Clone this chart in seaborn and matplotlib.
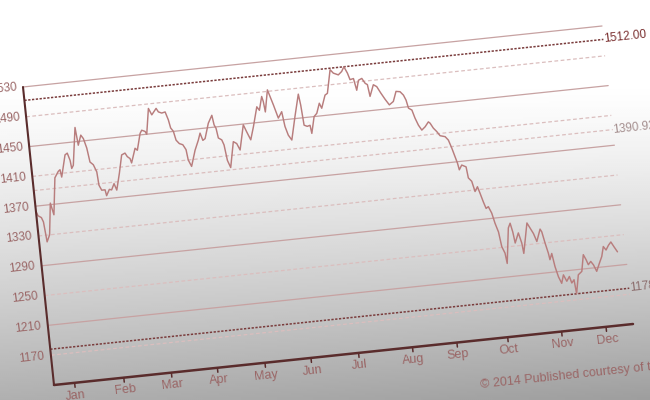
import numpy as np
import matplotlib
matplotlib.use("Agg")
import matplotlib.pyplot as plt
import seaborn as sns
from matplotlib.transforms import Affine2D

# chart data: days since the start of the chart and closing level
day = [0, 1, 3, 4, 5, 7, 9.5, 11, 14, 16.5, 17.7, 18.3, 21.8, 23.3, 24.6, 25.1, 26.3,
       29.8, 30.7, 32.9, 34.3, 35.8, 36.9, 38.8, 40.5, 41, 42.4, 44.5, 45.1, 47.2, 48.6,
       50.5, 51.8, 54.5, 57.1, 59.3, 60.5, 62.1, 62.8, 65.9, 67.2, 70, 71.2, 73.2, 74.1,
       76.8, 78.5, 81.6, 82.8, 84.8, 87, 88.5, 89.4, 90.9, 92, 93.8, 95.9, 97.6, 98.3,
       100, 103.2, 105.9, 107.4, 108.7, 110.2, 113.2, 115.9, 116.7, 117.7, 118.5, 120.5,
       121.6, 122.7, 124.3, 127.6, 129.6, 131.3, 134.9, 136.6, 138.6, 141.1, 144.5, 145.9,
       148.2, 148.9, 149.5, 152.2, 153.4, 155, 157.2, 159.7, 160.8, 162.3, 164.2, 167.7,
       171.2, 172, 172.8, 174.7, 176.5, 177.1, 179.6, 181.5, 183.7, 184.9, 187.8, 189.4,
       192.6, 194.4, 197.4, 199.7, 201.4, 203.2, 204.4, 206.6, 207.9, 209.6, 211.8, 213.6,
       214.9, 215.8, 218.6, 220.6, 222.7, 225, 227.3, 230, 232.3, 234.8, 236.7, 238, 239,
       241, 242.4, 244.1, 245.9, 248.2, 250.5, 251.5, 253.2, 255.1, 256.9, 260, 261.8,
       263.4, 264.9, 266, 266.7, 268.5, 271.1, 271.8, 273.7, 275.1, 276.9, 278.1, 279.6,
       280.9, 282.4, 284.1, 285.5, 287.1, 288.2, 289.8, 290.5, 293.5, 294.9, 296, 296.8,
       299.4, 300.9, 301.5, 305.4, 307, 308.8, 310.4, 313.2, 314.1, 315.4, 316.8, 317.4,
       318.9, 320.1, 321.6, 323.2, 324.8, 326.5, 328.4, 329.5, 331.1, 331.8, 334.1, 336.5,
       338.5, 339.9, 341, 342.7, 344.2, 345.8, 347.9, 349.9, 351.5, 353, 354.8, 356.5,
       358.2, 360]
price = [1363, 1357, 1354, 1348, 1321, 1330, 1372, 1356, 1405, 1413, 1415, 1405, 1434, 1436,
         1426, 1415, 1419, 1469, 1445, 1458, 1453, 1440, 1421, 1417, 1407, 1389, 1382, 1382,
         1374, 1382, 1381, 1389, 1380, 1402, 1426, 1428, 1423, 1420, 1414, 1433, 1430, 1452,
         1456, 1454, 1450, 1484, 1475, 1483, 1478, 1476, 1477, 1466, 1455, 1450, 1438, 1433,
         1431, 1424, 1410, 1401, 1422, 1435, 1444, 1434, 1436, 1456, 1466, 1453, 1448, 1435,
         1432, 1425, 1404, 1394, 1428, 1425, 1416, 1449, 1439, 1428, 1445, 1471, 1466, 1484,
         1477, 1463, 1492, 1483, 1471, 1453, 1461, 1441, 1429, 1422, 1453, 1482, 1467, 1440,
         1438, 1439, 1428, 1450, 1454, 1467, 1460, 1477, 1479, 1510, 1505, 1502, 1506, 1512,
         1503, 1494, 1495, 1479, 1492, 1494, 1487, 1485, 1469, 1484, 1481, 1472, 1463, 1455,
         1459, 1472, 1471, 1466, 1459, 1448, 1445, 1434, 1424, 1417, 1421, 1427, 1425, 1418,
         1413, 1407, 1405, 1400, 1389, 1377, 1368, 1359, 1365, 1362, 1347, 1342, 1328, 1334,
         1325, 1313, 1304, 1306, 1297, 1283, 1271, 1251, 1242, 1228, 1275, 1281, 1269, 1254,
         1267, 1253, 1239, 1279, 1272, 1264, 1253, 1269, 1265, 1250, 1236, 1227, 1235, 1217,
         1203, 1194, 1205, 1196, 1202, 1193, 1197, 1178, 1203, 1207, 1229, 1222, 1215, 1219,
         1214, 1205, 1215, 1224, 1237, 1232, 1238, 1242, 1235, 1228]

months = ["Jan", "Feb", "Mar", "Apr", "May", "Jun", "Jul", "Aug", "Sep", "Oct", "Nov", "Dec"]
month_day = [13, 44, 74, 103, 133, 162, 192, 226, 254, 286, 320, 348]

y_ticks = [1530, 1490, 1450, 1410, 1370, 1330, 1290, 1250, 1210, 1170]
grid_solid = [1530, 1450, 1370, 1290, 1210]
grid_dashed = [1490, 1410, 1330, 1250, 1170]

ref_values = [1512.00, 1390.92, 1178.00]
ref_labels = ["1512.00", "1390.92", "1178.00"]
ref_dark = [True, False, True]
ref_colors = ["#7a2f2f", "#a48e8e", "#8c6d6d"]

credit = "\u00a9 2014 Published courtesy of the lender"

x_end = 365
y_low, y_high = 1130, 1530

# colours
line_col = "#b87d7d"
text_col = "#9a6666"
axis_col = "#5a2c2c"
grid_col = "#c7a2a2"
dash_col = "#dbbebe"

sns.set_theme(style="white")
plt.rcParams["font.family"] = ["Liberation Sans", "DejaVu Sans"]

fig = plt.figure(figsize=(6.5, 4), dpi=100)
ax = fig.add_axes([0, 0, 1, 1])

# grey gradient backdrop
yy, xx = np.mgrid[0:1:200j, 0:1:325j]
fade = np.clip((yy - 0.2) / 0.8, 0, 1) ** 1.3
shade = 1 - 0.31 * fade - 0.07 * xx * fade
ax.imshow(shade, cmap="gray", vmin=0, vmax=1, extent=(0, 650, 400, 0),
          aspect="auto", interpolation="bilinear", zorder=0)

# tilted plane: (day, value) -> pixel
origin = (23, 87)
per_day = (579 / x_end, -61 / x_end)
per_val = (-0.0775, -0.745)
skew = Affine2D(np.array([
    [per_day[0], per_val[0], origin[0] - per_val[0] * y_high],
    [per_day[1], per_val[1], origin[1] - per_val[1] * y_high],
    [0, 0, 1]]))
tr = skew + ax.transData

for v in grid_solid:
    ax.plot([0, x_end], [v, v], color=grid_col, lw=0.9, transform=tr, zorder=1)
for v in grid_dashed:
    ax.plot([0, x_end], [v, v], color=dash_col, lw=0.9, ls=(0, (3, 2)),
            transform=tr, zorder=1)

for v, lab, dark, c in zip(ref_values, ref_labels, ref_dark, ref_colors):
    if dark:
        ax.plot([0, x_end], [v, v], color="#7a3c3c", lw=1.1, ls=(0, (1.5, 1)),
                transform=tr, zorder=2)
    else:
        ax.plot([0, x_end], [v, v], color=dash_col, lw=0.9, ls=(0, (3, 2)),
                transform=tr, zorder=1)
    ax.text(x_end, v, lab, transform=tr, color=c, fontsize=8.5,
            ha="left", va="center", rotation=6, rotation_mode="anchor")

sns.lineplot(x=day, y=price, ax=ax, color=line_col, lw=1.05, transform=tr, zorder=3)

# axes frame
ax.plot([0, 0], [y_low, y_high], color=axis_col, lw=1.5, transform=tr, zorder=4)
ax.plot([0, x_end], [y_low, y_low], color=axis_col, lw=1.8, transform=tr, zorder=4)
for d, m in zip(month_day, months):
    ax.plot([d, d], [y_low, y_low - 6], color=axis_col, lw=1.1, transform=tr, zorder=4)
    ax.text(d, y_low - 17, m, transform=tr, color=text_col, fontsize=9,
            ha="center", va="center", rotation=6, rotation_mode="anchor")

for v in y_ticks:
    ax.text(-4, v, str(v), transform=tr, color=text_col, fontsize=8.5,
            family=["Liberation Sans Narrow", "Liberation Sans"],
            ha="right", va="center", rotation=6, rotation_mode="anchor")

ax.text(266, 1070, credit, transform=tr, color=text_col, fontsize=9,
        ha="left", va="center", rotation=6, rotation_mode="anchor")

ax.set_xlim(0, 650)
ax.set_ylim(400, 0)
ax.set_axis_off()

fig.savefig("out.png", dpi=100)
